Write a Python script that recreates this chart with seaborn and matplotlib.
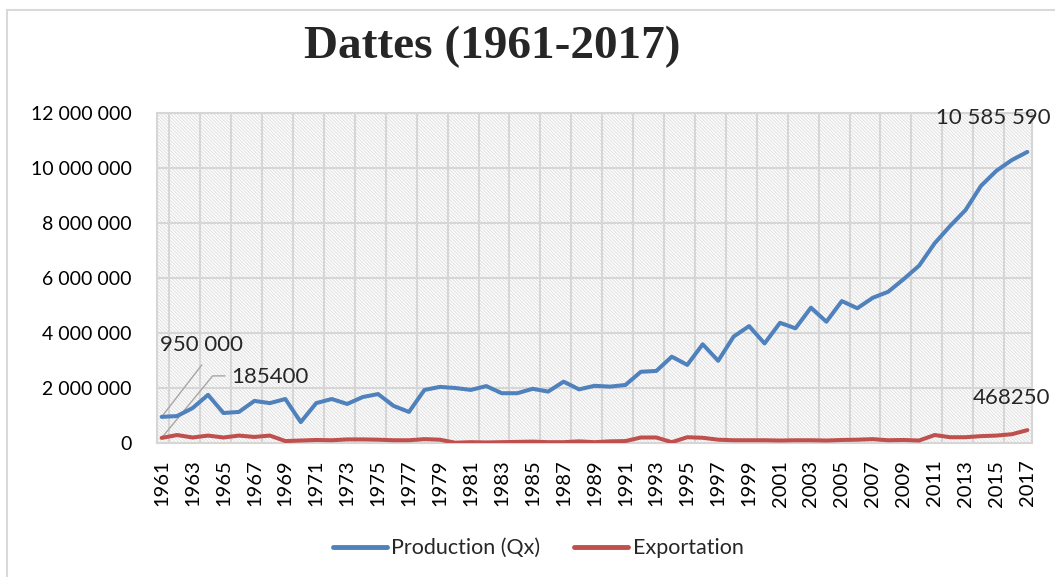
import matplotlib.pyplot as plt
from matplotlib.patches import Rectangle
from matplotlib.ticker import FuncFormatter
import seaborn as sns
import pandas as pd

years = list(range(1961, 2018))
production = [950000, 980000, 1270000, 1750000, 1090000, 1130000, 1530000, 1450000,
              1600000, 760000, 1450000, 1600000, 1420000, 1670000, 1780000, 1350000,
              1130000, 1930000, 2040000, 2000000, 1930000, 2070000, 1810000, 1810000,
              1970000, 1870000, 2230000, 1950000, 2080000, 2050000, 2110000, 2590000,
              2620000, 3140000, 2840000, 3590000, 2990000, 3870000, 4250000, 3620000,
              4370000, 4170000, 4920000, 4410000, 5160000, 4900000, 5280000, 5500000,
              5960000, 6450000, 7260000, 7890000, 8470000, 9350000, 9900000, 10290000,
              10585590]
exportation = [185400, 290000, 200000, 270000, 200000, 270000, 220000, 270000,
               70000, 90000, 110000, 100000, 130000, 130000, 120000, 100000,
               100000, 140000, 120000, 10000, 30000, 20000, 30000, 40000,
               50000, 30000, 30000, 60000, 30000, 60000, 70000, 200000,
               200000, 30000, 210000, 190000, 120000, 100000, 100000, 100000,
               90000, 100000, 100000, 90000, 110000, 120000, 140000, 100000,
               110000, 90000, 290000, 210000, 210000, 250000, 270000, 320000,
               468250]
series_names = ["Production (Qx)", "Exportation"]
colors = ["#4F81BD", "#C0504D"]

df = pd.DataFrame({"Année": years * 2,
                   "Valeur": production + exportation,
                   "Série": [series_names[0]] * len(years) + [series_names[1]] * len(years)})

sns.set_style("white")
plt.rcParams["font.family"] = ["Lato", "DejaVu Sans"]
plt.rcParams["hatch.color"] = "#e2e2e2"
plt.rcParams["hatch.linewidth"] = 0.8

fig = plt.figure(figsize=(10.55, 5.77), dpi=100)
ax = fig.add_axes([157 / 1055, 1 - 443 / 577, 875 / 1055, 330 / 577])

# hatched background like the Excel pattern fill
ax.add_patch(Rectangle((0, 0), 1, 1, transform=ax.transAxes, facecolor="white",
                       edgecolor="#e2e2e2", linewidth=0, hatch="\\" * 10, zorder=0))

sns.lineplot(data=df, x="Année", y="Valeur", hue="Série", palette=colors,
             linewidth=2.9, ax=ax, legend=False, zorder=3)

ax.set_xlim(1960.7, 2017.3)
ax.set_ylim(0, 12000000)
ax.set_yticks(range(0, 12000001, 2000000))
ax.yaxis.set_major_formatter(FuncFormatter(lambda v, p: f"{int(v):,}".replace(",", " ")))
ax.set_xticks(years[::2])
ax.set_xticklabels([str(y) for y in years[::2]], rotation=90)
ax.tick_params(axis="both", length=0, colors="black")
ax.tick_params(axis="x", pad=12, labelsize=14.5)
ax.tick_params(axis="y", pad=18, labelsize=14)
ax.set_xlabel("")
ax.set_ylabel("")

# grid
for v in range(2000000, 12000001, 2000000):
    ax.axhline(v, color="#d6d6d6", lw=1.5, zorder=1)
for y in years[::2]:
    ax.axvline(y + 0.5, color="#d6d6d6", lw=1.5, zorder=1)
for spine in ax.spines.values():
    spine.set_color("#d6d6d6")
    spine.set_linewidth(1.5)

# data labels
ax.plot([1961, 1963.6], [950000, 2840000], color="#a6a6a6", lw=1, zorder=2)
ax.text(1963.6, 3560000, "950 000", ha="center", va="center", fontsize=16)
ax.plot([1961, 1964.3, 1965.1], [185400, 2440000, 2440000], color="#a6a6a6", lw=1, zorder=2)
ax.text(1965.5, 2400000, "185400", ha="left", va="center", fontsize=16)
ax.text(2018.5, 11820000, "10 585 590", ha="right", va="center", fontsize=16, clip_on=False)
ax.text(2018.5, 1640000, "468250", ha="right", va="center", fontsize=16, clip_on=False)

fig.text(0.467, 0.918, "Dattes (1961-2017)", ha="center", va="center",
         fontsize=34, fontweight="bold", family=["Liberation Serif", "DejaVu Serif"])

handles = [plt.Line2D([], [], color=c, lw=3.5) for c in colors]
fig.legend(handles, series_names, loc="center", bbox_to_anchor=(0.51, 0.05), ncol=2,
           frameon=False, fontsize=15.5, handlelength=2.5, columnspacing=1.6, handletextpad=0.2)

# chart frame
fig.patches.append(Rectangle((7 / 1055, -0.01), 1.0, 1 - 10 / 577 + 0.01,
                             transform=fig.transFigure, fill=False,
                             edgecolor="#d9d9d9", lw=1.5))

plt.savefig("out.png", dpi=100)
plt.close()
